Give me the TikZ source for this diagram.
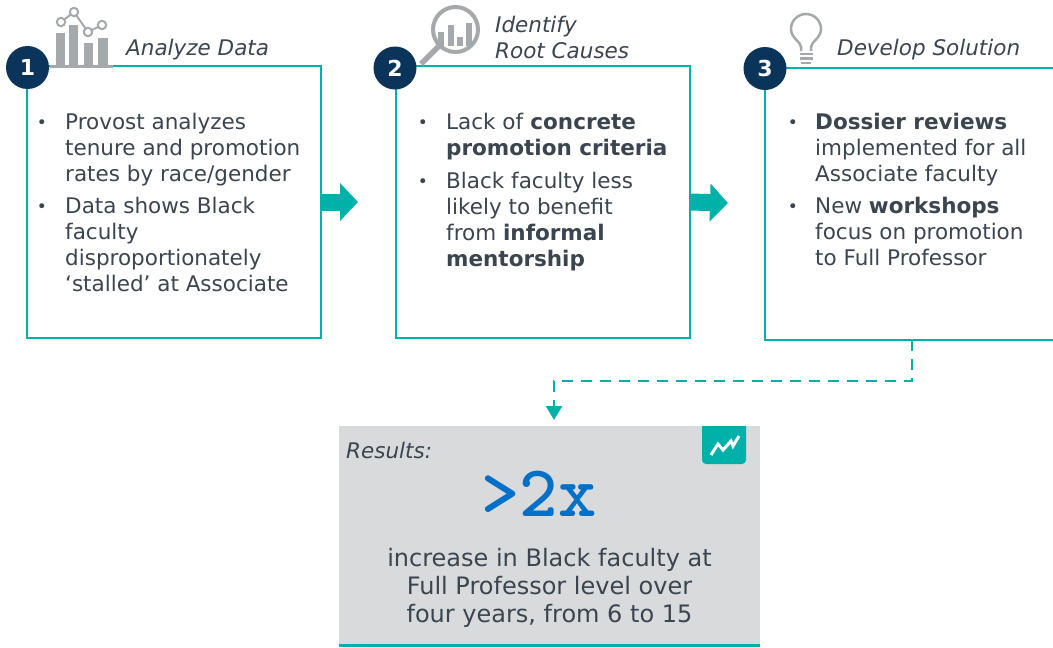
\documentclass[tikz,border=0pt]{standalone}
\usepackage{fontspec}
\setmainfont{DejaVu Sans}
\usetikzlibrary{arrows.meta}
\definecolor{tealc}{RGB}{0,177,169}
\definecolor{navyc}{RGB}{10,52,90}
\definecolor{textc}{RGB}{59,69,80}
\definecolor{icong}{RGB}{166,169,172}
\definecolor{boxg}{RGB}{217,218,220}
\definecolor{bluec}{RGB}{0,112,200}
\newcommand\firstln{\rule{0pt}{20pt}}
\begin{document}
\begin{tikzpicture}[x=1pt,y=-1pt,
  stepbox/.style={draw=tealc, line width=2.5pt, inner sep=0pt, outer sep=0pt, anchor=north west, minimum height=272pt},
  numcirc/.style={circle, fill=navyc, minimum size=43pt, inner sep=0pt, text=white, font=\bfseries\fontsize{22}{22}\selectfont},
  steplabel/.style={anchor=base west, inner sep=0pt, text=textc, font=\itshape\fontsize{21.5}{26}\selectfont},
  steplabeltwo/.style={anchor=north west, inner sep=0pt, text=textc, font=\itshape\fontsize{21.5}{26}\selectfont, align=left},
  body/.style={anchor=north west, inner sep=0pt, text=textc, font=\fontsize{21.5}{26}\selectfont, align=left},
  bul/.style={anchor=base, inner sep=0pt, text=textc, font=\fontsize{17}{17}\selectfont},
  bigarrow/.style={draw=tealc, line width=17pt, -{Triangle[length=18pt,width=37pt]}},
  dconn/.style={draw=tealc, line width=2.5pt, dash pattern=on 11pt off 8pt, -{Triangle[length=14pt,width=16pt]}},
]
\clip (0,0) rectangle (1053,648);
\fill[white] (0,0) rectangle (1053,648);

% step boxes
\node[stepbox, minimum width=294pt] (b1) at (27,66) {};
\node[stepbox, minimum width=294pt] (b2) at (396,66) {};
\node[stepbox, minimum width=310pt] (b3) at (765,68) {};

% connectors between boxes
\draw[bigarrow, shorten >=38pt] (b1.east) -- (b2.west);
\draw[bigarrow, shorten >=37pt] (b2.east) -- (b3.west);

% result box
\node[fill=boxg, inner sep=0pt, outer sep=0pt, anchor=north west, minimum width=421pt, minimum height=219pt] (res) at (339,426) {};
\draw[tealc, line width=3pt] (res.south west) -- (res.south east);

% dashed connector
\draw[dconn, shorten >=6pt] ([xshift=147pt]b3.south west) -- ++(0,41) -| ([xshift=215pt]res.north west);

% number circles
\node[numcirc] (c1) at (27.5,67.5) {1};
\node[numcirc] (c2) at (395,68) {2};
\node[numcirc] (c3) at (765,68.5) {3};

% icon 1: bar chart
\fill[icong] (56,33) rectangle (65,66);
\fill[icong] (69,25) rectangle (78,66);
\fill[icong] (84,43) rectangle (93,66);
\fill[icong] (98,38) rectangle (108,66);
\draw[icong, line width=3pt] (50,66) -- (113,66);
\draw[icong, line width=2pt] (61,22) -- (74,12) -- (88,32) -- (102,25);
\foreach \p in {(61,22),(74,12),(88,32),(102,25)}
  \filldraw[fill=white, draw=icong, line width=2pt] \p circle[radius=4.2pt];

% icon 2: magnifier
\draw[icong, line width=4pt] (455.5,29.5) circle[radius=22.5pt];
\draw[icong, line width=5.5pt] (440,45) -- (421,64);
\fill[icong] (438,32) rectangle (444,46);
\fill[icong] (448,25) rectangle (454,46);
\fill[icong] (457,37) rectangle (463,46);
\fill[icong] (466,23) rectangle (472,46);

% icon 3: bulb
\draw[icong, line width=2.5pt] (801,51) -- (801,47) .. controls (801,42) and (791,38) .. (791,29)
  arc[start angle=180, end angle=0, radius=15pt]
  .. controls (821,38) and (811,42) .. (811,47) -- (811,51);
\draw[icong, line width=2.5pt] (799.5,54) -- (812.5,54);
\draw[icong, line width=2.5pt] (799.5,58.5) -- (812.5,58.5);
\draw[icong, line width=2.5pt] (801,63) -- (811,63);

% step labels
\node[steplabel] (l1) at (126,55) {Analyze Data};
\node[steplabeltwo] (l2) at (495,12) {\firstln Identify\\Root Causes};
\node[steplabel] (l3) at (837,55) {Develop Solution};

% box 1 text
\node[bul] (u11) at (42,128) {•};
\node[body] (t11) at (65,109) {\firstln Provost analyzes\\tenure and promotion\\rates by race/gender};
\node[bul] (u12) at (42,212) {•};
\node[body] (t12) at (65,193) {\firstln Data shows Black\\faculty\\disproportionately\\‘stalled’ at Associate};

% box 2 text
\node[bul] (u21) at (423,128) {•};
\node[body] (t21) at (446,109) {\firstln Lack of \textbf{concrete}\\\textbf{promotion criteria}};
\node[bul] (u22) at (423,187) {•};
\node[body] (t22) at (446,168) {\firstln Black faculty less\\likely to benefit\\from \textbf{informal}\\\textbf{mentorship}};

% box 3 text
\node[bul] (u31) at (793,128) {•};
\node[body] (t31) at (815,109) {\firstln\textbf{Dossier reviews}\\implemented for all\\Associate faculty};
\node[bul] (u32) at (793,212) {•};
\node[body] (t32) at (815,193) {\firstln New \textbf{workshops}\\focus on promotion\\to Full Professor};

% results content
\fill[tealc] (702,426) [rounded corners=4pt] -- (702,464) -- (746,464) [sharp corners] -- (746,426) -- cycle;
\draw[white, line width=3pt, line join=miter] (711,455) -- (718,444) -- (723,450) -- (731,441) -- (733,446) -- (739,436);
\node[steplabel] (rl) at (346,458) {Results:};
\node[anchor=base, inner sep=0pt, text=bluec, font=\ttfamily\bfseries\fontsize{73}{73}\selectfont] (big) at (539,516) {>2x};
\node[anchor=north, inner sep=0pt, text=textc, align=center, font=\fontsize{24}{28.3}\selectfont] (rt) at (549.5,546) {\firstln increase in Black faculty at\\Full Professor level over\\four years, from 6 to 15};
\end{tikzpicture}
\end{document}
